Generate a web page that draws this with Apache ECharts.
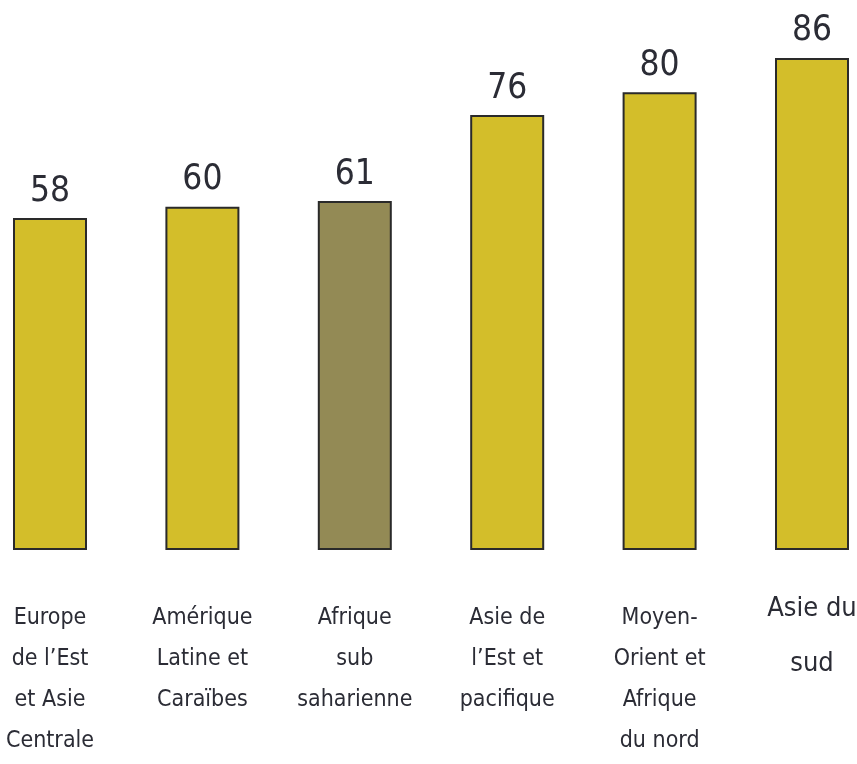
<!DOCTYPE html>
<html>
<head>
<meta charset="utf-8">
<script src="https://cdn.jsdelivr.net/npm/echarts@6/dist/echarts.min.js"></script>
<style>
  html, body { margin: 0; padding: 0; background: #fff; }
  #chart { width: 857px; height: 764px; }
</style>
</head>
<body>
<div id="chart"></div>
<script>
var regions = [
    'Europe\nde l\u2019Est\net Asie\nCentrale',
    'Am\u00e9rique\nLatine et\nCara\u00efbes',
    'Afrique\nsub\nsaharienne',
    'Asie de\nl\u2019Est et\npacifique',
    'Moyen-\nOrient et\nAfrique\ndu nord',
    'Asie du\nsud'
];
var values = [58, 60, 61, 76, 80, 86];
var highlightIndex = 2; // Afrique sub saharienne

var FONT = '"Liberation Sans Narrow", "DejaVu Sans Condensed", sans-serif';
var TEXT = '#2b2c35';

var chart = echarts.init(document.getElementById('chart'));

var option = {
    backgroundColor: '#ffffff',
    animation: false,
    grid: {
        left: 50,
        right: 45,
        top: 35,
        bottom: 214,
        containLabel: false,
        outerBoundsMode: 'none'
    },
    xAxis: {
        type: 'category',
        data: regions,
        boundaryGap: false,
        axisLine: { show: false },
        axisTick: { show: false },
        axisLabel: {
            interval: 0,
            margin: 48,
            verticalAlign: 'top',
            fontFamily: FONT,
            fontSize: 23,
            lineHeight: 41,
            color: TEXT,
            formatter: function (val, idx) {
                if (idx !== regions.length - 1) return val;
                var lines = val.split('\n');
                return '{big1|' + lines[0] + '}\n{big2|' + lines[1] + '}';
            },
            rich: {
                big1: { fontFamily: FONT, fontSize: 27, lineHeight: 22, color: TEXT },
                big2: { fontFamily: FONT, fontSize: 27, lineHeight: 88, color: TEXT }
            }
        }
    },
    yAxis: {
        type: 'value',
        min: 0,
        max: 90,
        show: false,
        splitLine: { show: false }
    },
    series: [{
        type: 'bar',
        barWidth: 74,
        clip: false,
        data: values.map(function (v, i) {
            return {
                value: v,
                itemStyle: { color: i === highlightIndex ? '#938a55' : '#d3be2a' }
            };
        }),
        itemStyle: {
            borderColor: '#2a2a2a',
            borderWidth: 2
        },
        label: {
            show: true,
            position: 'top',
            distance: 9,
            fontFamily: FONT,
            fontSize: 35,
            color: TEXT
        }
    }]
};

chart.setOption(option);
</script>
</body>
</html>
